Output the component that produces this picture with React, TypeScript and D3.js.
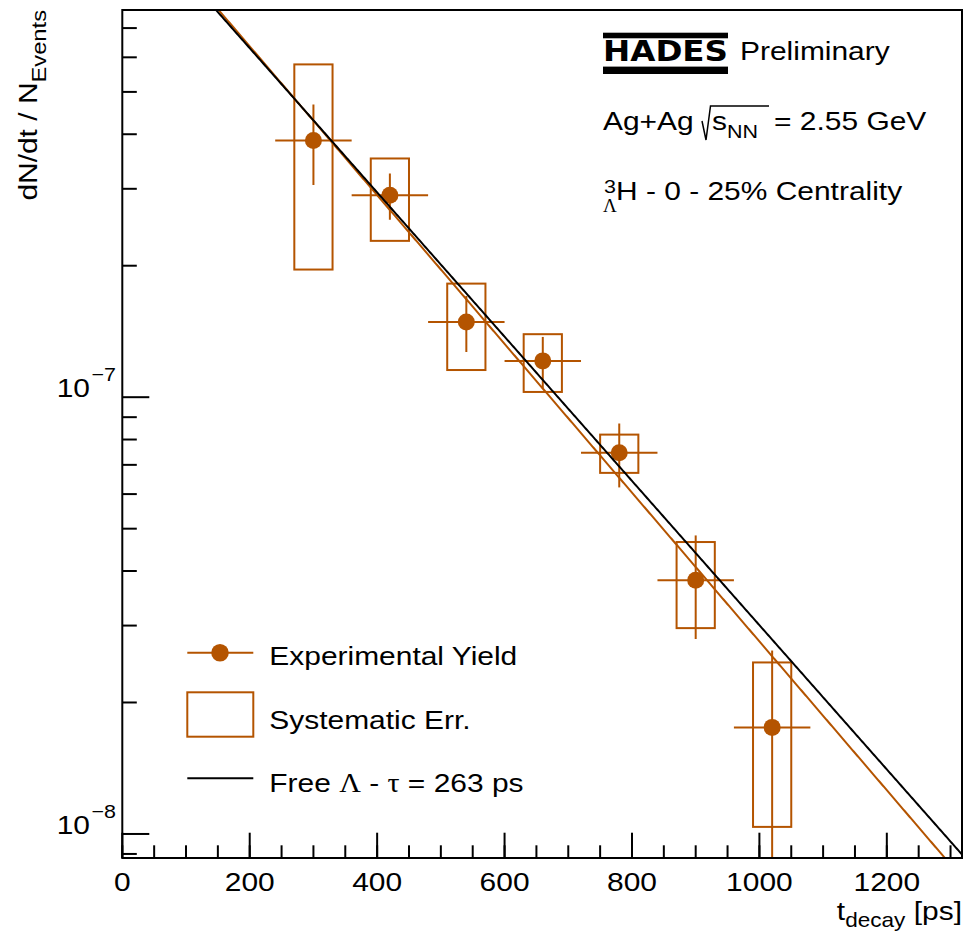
import React from "react";
import * as d3 from "d3";

// ---------- data ----------
const decayTimes = [300, 420, 540, 660, 780, 900, 1020]; // ps
const yieldValues = [3.87e-7, 2.9e-7, 1.487e-7, 1.211e-7, 7.46e-8, 3.81e-8, 1.754e-8];
const statErrors = [0.81e-7, 0.35e-7, 0.218e-7, 0.163e-7, 1.245e-8, 1.015e-8, 0.876e-8];
const timeErrors = [60, 60, 60, 60, 60, 60, 60];
const sysErrors = [1.91e-7, 0.62e-7, 0.333e-7, 0.183e-7, 0.75e-8, 0.85e-8, 0.716e-8];
const sysHalfWidths = [30, 30, 30, 30, 30, 30, 30];

// exponential curves: A * exp(-t / tau)
const freeLambda = { amp: 1.347e-6, tau: 263 };
const fitCurve = { amp: 1.393e-6, tau: 255 };

const xTickLabels = ["0", "200", "400", "600", "800", "1000", "1200"];
const xDomain = [0, 1318];
const yDomain = [8.81e-9, 7.7e-7];

const ORANGE = "#b45400";
const FONT = "'Liberation Sans', Arial, Helvetica, sans-serif";
const SERIF = "'Liberation Serif', 'DejaVu Serif', serif";
const SX = 1.13;
const FS = 26.5;

function T({ x, y, size = FS, anchor = "start", rotate = false, children, weight }: any) {
  const tr = rotate
    ? `translate(${x},${y}) rotate(-90) scale(${SX},1)`
    : `translate(${x},${y}) scale(${SX},1)`;
  return (
    <text transform={tr} fontSize={size} textAnchor={anchor} fontFamily={FONT} fontWeight={weight} fill="#000">
      {children}
    </text>
  );
}

export default function App() {
  const left = 122.3, right = 962, top = 10, bottom = 858;
  const x = d3.scaleLinear().domain(xDomain).range([left, right]);
  const y = d3.scaleLog().domain(yDomain).range([bottom, top]);

  const tSamples = d3.range(xDomain[0], xDomain[1] + 2, 2);
  const curve = (p: { amp: number; tau: number }) =>
    d3
      .line<number>()
      .x((t) => x(t))
      .y((t) => y(p.amp * Math.exp(-t / p.tau)))(tSamples) as string;

  const yTicks = y.ticks();
  const isMajor = (v: number) => Math.abs(Math.log10(v) - Math.round(Math.log10(v))) < 1e-6;
  const xMajor = d3.range(0, xDomain[1], 200);
  const xMinor = d3.range(0, xDomain[1], 50);

  const pts = decayTimes.map((t, i) => ({
    t,
    v: yieldValues[i],
    se: statErrors[i],
    te: timeErrors[i],
    sy: sysErrors[i],
    sw: sysHalfWidths[i],
  }));

  return (
    <svg width={963} height={936} style={{ position: "absolute", left: 0, top: 0, background: "#fff" }}>
      <defs>
        <clipPath id="plotClip">
          <rect x={left} y={top} width={right - left} height={bottom - top} />
        </clipPath>
      </defs>
      <rect x={0} y={0} width={963} height={936} fill="#fff" />

      <g clipPath="url(#plotClip)">
        {/* systematic boxes */}
        {pts.map((p, i) => (
          <rect
            key={"sys" + i}
            x={x(p.t - p.sw)}
            y={y(p.v + p.sy)}
            width={x(p.t + p.sw) - x(p.t - p.sw)}
            height={y(p.v - p.sy) - y(p.v + p.sy)}
            fill="none"
            stroke={ORANGE}
            strokeWidth={2}
          />
        ))}
        {/* stat error bars */}
        {pts.map((p, i) => (
          <g key={"err" + i} stroke={ORANGE} strokeWidth={2}>
            <line x1={x(p.t - p.te)} x2={x(p.t + p.te)} y1={y(p.v)} y2={y(p.v)} />
            <line
              x1={x(p.t)}
              x2={x(p.t)}
              y1={y(p.v + p.se)}
              y2={p.v - p.se > 0 ? y(p.v - p.se) : bottom + 10}
            />
          </g>
        ))}
        {pts.map((p, i) => (
          <circle key={"m" + i} cx={x(p.t)} cy={y(p.v)} r={8.5} fill={ORANGE} />
        ))}
        <path d={curve(fitCurve)} fill="none" stroke={ORANGE} strokeWidth={2} />
        <path d={curve(freeLambda)} fill="none" stroke="#000" strokeWidth={2} />
      </g>

      {/* frame */}
      <rect x={left} y={top} width={right - left} height={bottom - top} fill="none" stroke="#000" strokeWidth={2} />

      {/* y ticks */}
      {yTicks.map((v, i) => (
        <line
          key={"yt" + i}
          x1={left}
          x2={left + (isMajor(v) ? 27 : 14.5)}
          y1={y(v)}
          y2={y(v)}
          stroke="#000"
          strokeWidth={2}
        />
      ))}
      {yTicks.filter(isMajor).map((v, i) => (
        <g key={"yl" + i}>
          <T x={90} y={y(v)} anchor="end">10</T>
          <T x={91.5} y={y(v) - 16} size={19}>{"\u2212" + Math.abs(Math.round(Math.log10(v)))}</T>
        </g>
      ))}

      {/* x ticks */}
      {xMinor.map((t, i) => (
        <line key={"xm" + i} x1={x(t)} x2={x(t)} y1={bottom} y2={bottom - 12.7} stroke="#000" strokeWidth={2} />
      ))}
      {xMajor.map((t, i) => (
        <line key={"xM" + i} x1={x(t)} x2={x(t)} y1={bottom} y2={bottom - 25.3} stroke="#000" strokeWidth={2} />
      ))}
      {xMajor.map((t, i) => (
        <T key={"xl" + i} x={x(t)} y={891} anchor="middle">{xTickLabels[i]}</T>
      ))}

      {/* axis titles */}
      <T x={962} y={920} anchor="end">
        t<tspan fontSize={20} dy={7}>decay</tspan>
        <tspan dy={-7}> [ps]</tspan>
      </T>
      <T x={36.7} y={10} anchor="end" rotate>
        dN/dt / N<tspan fontSize={21} dy={9}>Events</tspan>
      </T>

      {/* HADES logo */}
      <rect x={603} y={32.7} width={125} height={5.6} fill="#000" />
      <rect x={603} y={66.6} width={125} height={7.4} fill="#000" />
      <text
        x={603}
        y={60.7}
        fontSize={27.5}
        fontFamily="'DejaVu Sans', sans-serif"
        fontWeight={900}
        textLength={125}
        lengthAdjust="spacingAndGlyphs"
      >
        HADES
      </text>
      <T x={740} y={60}>Preliminary</T>

      {/* collision system */}
      <T x={603} y={130}>Ag+Ag</T>
      <path d="M702,121 L706,140 L710.5,106 L769,106" fill="none" stroke="#000" strokeWidth={1.5} />
      <T x={712} y={130}>
        s<tspan fontSize={19} dy={8}>NN</tspan>
      </T>
      <T x={774} y={130}>= 2.55 GeV</T>

      {/* hypernucleus */}
      <T x={604} y={193} size={19}>3</T>
      <text x={603} y={212} fontSize={19} fontFamily={SERIF}>Λ</text>
      <T x={616} y={200}>H - 0 - 25% Centrality</T>

      {/* legend */}
      <line x1={187.3} x2={253.3} y1={652.7} y2={652.7} stroke={ORANGE} strokeWidth={2} />
      <circle cx={220} cy={652.7} r={8.8} fill={ORANGE} />
      <T x={269.3} y={665}>Experimental Yield</T>
      <rect x={187.3} y={692.3} width={66} height={44.4} fill="none" stroke={ORANGE} strokeWidth={2} />
      <T x={269.3} y={729}>Systematic Err.</T>
      <line x1={187.3} x2={253.3} y1={778.3} y2={778.3} stroke="#000" strokeWidth={2} />
      <T x={269.3} y={791.7}>
        Free <tspan fontFamily={SERIF}>Λ</tspan> - <tspan fontFamily={SERIF}>τ</tspan> = 263 ps
      </T>
    </svg>
  );
}
